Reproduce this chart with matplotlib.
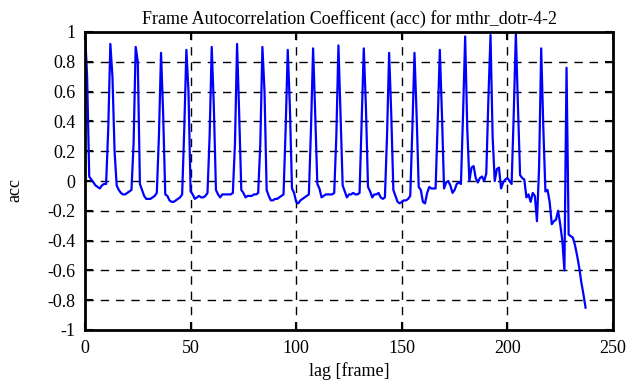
import matplotlib
matplotlib.use("Agg")
import matplotlib.pyplot as plt

# acc values per lag (0..237)
acc = [
    1.00, 0.70, 0.03, 0.01, -0.01, -0.03, -0.04, -0.05, -0.03, -0.02, -0.02, 0.35,
    0.92, 0.70, 0.20, -0.03, -0.06, -0.08, -0.09, -0.09, -0.08, -0.07, -0.06, 0.25,
    0.90, 0.80, -0.02, -0.06, -0.10, -0.12, -0.12, -0.12, -0.11, -0.10, -0.08, 0.30,
    0.86, 0.45, -0.09, -0.10, -0.13, -0.14, -0.14, -0.13, -0.12, -0.11, -0.09, 0.35,
    0.88, 0.60, -0.07, -0.09, -0.12, -0.11, -0.10, -0.11, -0.11, -0.10, -0.08, 0.30,
    0.90, 0.50, -0.06, -0.09, -0.11, -0.09, -0.09, -0.09, -0.09, -0.09, -0.08, 0.25,
    0.92, 0.45, -0.06, -0.08, -0.11, -0.10, -0.10, -0.10, -0.09, -0.09, -0.08, 0.25,
    0.90, 0.60, -0.06, -0.10, -0.13, -0.13, -0.12, -0.12, -0.11, -0.10, -0.09, 0.35,
    0.88, 0.50, -0.05, -0.08, -0.14, -0.15, -0.13, -0.12, -0.11, -0.10, -0.09, 0.35,
    0.89, 0.45, -0.02, -0.05, -0.11, -0.10, -0.09, -0.09, -0.09, -0.09, -0.08, 0.30,
    0.91, 0.45, -0.03, -0.07, -0.11, -0.09, -0.09, -0.08, -0.09, -0.09, -0.08, 0.40,
    0.89, 0.50, -0.04, -0.07, -0.11, -0.09, -0.09, -0.08, -0.11, -0.12, -0.11, 0.30,
    0.86, 0.45, -0.06, -0.10, -0.14, -0.15, -0.14, -0.13, -0.13, -0.12, -0.10, 0.35,
    0.86, 0.45, -0.04, -0.06, -0.14, -0.15, -0.08, -0.04, -0.05, -0.05, -0.05, 0.40,
    0.88, 0.45, -0.05, -0.01, 0.00, -0.03, -0.08, -0.06, -0.02, -0.01, -0.02, 0.45,
    0.97, 0.35, 0.00, 0.09, 0.10, 0.02, -0.01, 0.02, 0.03, 0.00, 0.05, 0.55,
    0.98, 0.30, 0.00, 0.08, 0.09, -0.05, -0.01, 0.01, 0.02, 0.00, -0.02, 0.45,
    0.99, 0.50, 0.04, 0.02, 0.01, -0.11, -0.09, -0.14, -0.08, -0.10, -0.27, 0.09,
    0.89, 0.36, -0.07, -0.06, -0.14, -0.29, -0.27, -0.26, -0.20, -0.29, -0.40, -0.60,
    0.76, -0.36, -0.37, -0.38, -0.43, -0.50, -0.58, -0.68, -0.76, -0.85,
]
lag = list(range(len(acc)))

x_ticks = [0, 50, 100, 150, 200, 250]
y_ticks = [-1, -0.8, -0.6, -0.4, -0.2, 0, 0.2, 0.4, 0.6, 0.8, 1]
y_labels = ["-1", "-0.8", "-0.6", "-0.4", "-0.2", "0", "0.2", "0.4", "0.6", "0.8", "1"]

plt.rcParams["font.family"] = ["Liberation Serif", "DejaVu Serif"]
plt.rcParams["font.size"] = 13

fig = plt.figure(figsize=(6.41, 3.87), dpi=100)
ax = fig.add_axes([85 / 641, 1 - 330 / 387, 528 / 641, 298 / 387])

ax.plot(lag, acc, color="#0000ff", linewidth=1.6)

ax.set_xlim(0, 250)
ax.set_ylim(-1, 1)
ax.set_xticks(x_ticks)
ax.set_yticks(y_ticks)
ax.set_yticklabels(y_labels)

# gnuplot-like grid, skip the border ticks
for xv in x_ticks[1:-1]:
    ax.axvline(xv, color="black", linestyle=(0, (6, 5)), linewidth=1.0, zorder=0)
for yv in y_ticks[1:-1]:
    ax.axhline(yv, color="black", linestyle=(0, (6, 5)), linewidth=1.0, zorder=0)

ax.tick_params(direction="in", length=6, width=1.5, top=True, right=True, pad=7)
for sp in ax.spines.values():
    sp.set_linewidth(2)

ax.set_title("Frame Autocorrelation Coefficent (acc) for mthr_dotr-4-2", fontsize=13, pad=6)
ax.set_xlabel("lag [frame]", labelpad=4)
fig.text(15 / 641, 1 - 190 / 387, "acc", rotation=90, ha="center", va="center")

fig.savefig("out.png", dpi=100)
